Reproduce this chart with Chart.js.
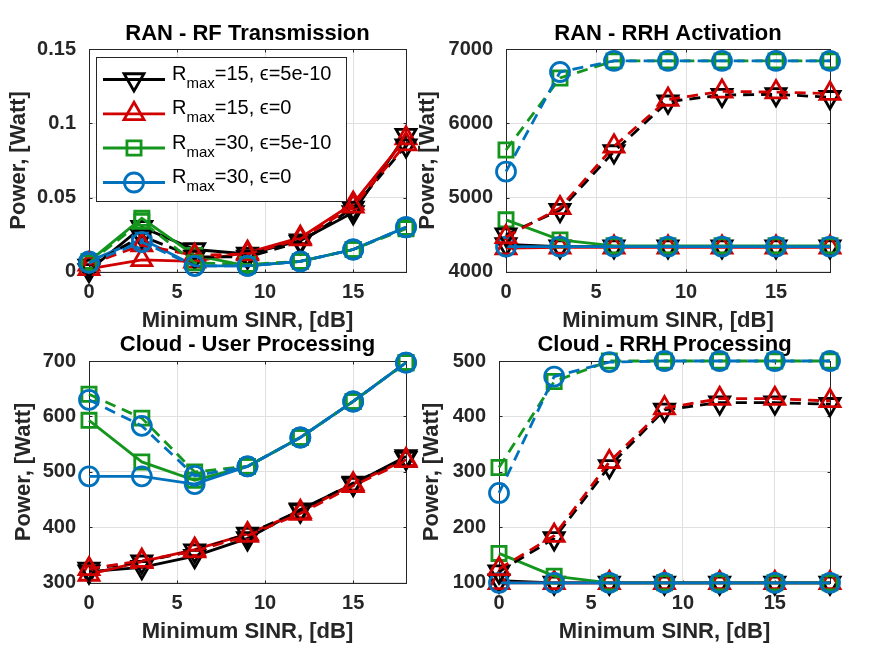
<!DOCTYPE html>
<html><head><meta charset="utf-8">
<script src="https://cdn.jsdelivr.net/npm/chart.js@4/dist/chart.umd.min.js"></script>
<style>
html,body{margin:0;padding:0;background:#fff;}
body{width:875px;height:657px;overflow:hidden;position:relative;}
canvas{position:absolute;}
</style>
</head><body>
<script>
// ---------- DATA ----------
const SINR = [0, 3, 6, 9, 12, 15, 18];
const xTicks = [0, 5, 10, 15];
const xTickLabels = ['0', '5', '10', '15'];

// RAN - RF Transmission
const rfTicks = [0, 0.05, 0.1, 0.15];
const rfTickLabels = ['0', '0.05', '0.1', '0.15'];
const rfBlackSolid  = [0.001, 0.030, 0.015, 0.012, 0.021, 0.040, 0.092];
const rfBlackDashed = [0.004, 0.024, 0.010, 0.010, 0.020, 0.043, 0.085];
const rfRedSolid    = [0.002, 0.008, 0.007, 0.013, 0.023, 0.046, 0.090];
const rfRedDashed   = [0.005, 0.018, 0.011, 0.012, 0.022, 0.044, 0.086];
const rfGreenSolid  = [0.007, 0.036, 0.011, 0.004, 0.007, 0.015, 0.030];
const rfGreenDashed = [0.006, 0.034, 0.006, 0.005, 0.007, 0.015, 0.029];
const rfBlueSolid   = [0.007, 0.022, 0.004, 0.004, 0.007, 0.015, 0.030];
const rfBlueDashed  = [0.006, 0.020, 0.004, 0.004, 0.007, 0.015, 0.030];

// RAN - RRH Activation
const actTicks = [4000, 5000, 6000, 7000];
const actTickLabels = ['4000', '5000', '6000', '7000'];
const actBlackSolid  = [4370, 4340, 4340, 4340, 4340, 4340, 4340];
const actBlackDashed = [4500, 4830, 5620, 6290, 6380, 6390, 6350];
const actRedSolid    = [4320, 4330, 4330, 4330, 4330, 4330, 4330];
const actRedDashed   = [4470, 4860, 5690, 6320, 6430, 6420, 6400];
const actGreenSolid  = [4700, 4430, 4350, 4350, 4350, 4350, 4350];
const actGreenDashed = [5640, 6610, 6840, 6840, 6840, 6840, 6840];
const actBlueSolid   = [4340, 4340, 4340, 4340, 4340, 4340, 4340];
const actBlueDashed  = [5350, 6690, 6840, 6840, 6840, 6840, 6840];

// Cloud - User Processing
const usrTicks = [300, 400, 500, 600, 700];
const usrTickLabels = ['300', '400', '500', '600', '700'];
const usrBlackSolid  = [320, 328, 348, 380, 432, 478, 528];
const usrBlackDashed = [325, 338, 358, 388, 430, 480, 525];
const usrRedSolid    = [315, 338, 360, 388, 428, 478, 522];
const usrRedDashed   = [325, 340, 357, 385, 425, 475, 520];
const usrGreenSolid  = [593, 518, 485, 510, 562, 627, 697];
const usrGreenDashed = [640, 597, 500, 510, 562, 627, 697];
const usrBlueSolid   = [492, 492, 478, 510, 562, 627, 697];
const usrBlueDashed  = [630, 583, 493, 510, 562, 627, 697];

// Cloud - RRH Processing
const procTicks = [100, 200, 300, 400, 500];
const procTickLabels = ['100', '200', '300', '400', '500'];
const procBlackSolid  = [104, 100, 100, 100, 100, 100, 100];
const procBlackDashed = [120, 180, 310, 412, 425, 425, 422];
const procRedSolid    = [100, 100, 100, 100, 100, 100, 100];
const procRedDashed   = [125, 185, 318, 415, 432, 432, 428];
const procGreenSolid  = [153, 112, 100, 100, 100, 100, 100];
const procGreenDashed = [308, 463, 500, 500, 500, 500, 500];
const procBlueSolid   = [100, 100, 100, 100, 100, 100, 100];
const procBlueDashed  = [262, 472, 498, 500, 500, 500, 500];

// Legend text
const legendRmax = ['15', '15', '30', '30'];
const legendEps  = ['5e-10', '0', '5e-10', '0'];

const xTitle = 'Minimum SINR, [dB]';
const yTitle = 'Power, [Watt]';

// ---------- STYLE ----------
const FONT = "'Liberation Sans', Arial, Helvetica, sans-serif";
const COLORS = ['#000000', '#d00000', '#14961e', '#0072bd'];
const STYLES = [
  {pointStyle: 'triangle', rotation: 180, radius: 11.5},
  {pointStyle: 'triangle', rotation: 0, radius: 11.5},
  {pointStyle: 'rect', rotation: 0, radius: 10},
  {pointStyle: 'circle', rotation: 0, radius: 9.5}
];
const LW = 2.8;
const DASH = [11, 7];

function mkDs(values, k, dashed, order) {
  const s = STYLES[k];
  return {
    data: SINR.map((x, i) => ({x: x, y: values[i]})),
    borderColor: COLORS[k],
    backgroundColor: 'rgba(0,0,0,0)',
    borderWidth: LW,
    borderDash: dashed ? DASH : [],
    pointStyle: s.pointStyle,
    pointRotation: s.rotation,
    pointRadius: s.radius,
    pointBorderWidth: LW,
    pointBorderColor: COLORS[k],
    pointBackgroundColor: 'rgba(0,0,0,0)',
    tension: 0,
    clip: false,
    order: order
  };
}

function buildSets(bs, bd, rs, rd, gs, gd, us, ud) {
  // lower order = drawn on top
  return [
    mkDs(bs, 0, false, 8), mkDs(rs, 1, false, 7), mkDs(gs, 2, false, 6), mkDs(us, 3, false, 5),
    mkDs(bd, 0, true, 4), mkDs(rd, 1, true, 3), mkDs(gd, 2, true, 2), mkDs(ud, 3, true, 1)
  ];
}

// Panel layout (page pixels)
const panels = [
  {title: 'RAN - RF Transmission', area: [89, 406, 49, 272], ytX: 19, tY: 33.8,
   yMin: 0, yMax: 0.15, yTicks: rfTicks, yLabels: rfTickLabels,
   sets: buildSets(rfBlackSolid, rfBlackDashed, rfRedSolid, rfRedDashed, rfGreenSolid, rfGreenDashed, rfBlueSolid, rfBlueDashed),
   legend: true},
  {title: 'RAN - RRH Activation', area: [506, 830, 49, 272], ytX: 428, tY: 33.8,
   yMin: 4000, yMax: 7000, yTicks: actTicks, yLabels: actTickLabels,
   sets: buildSets(actBlackSolid, actBlackDashed, actRedSolid, actRedDashed, actGreenSolid, actGreenDashed, actBlueSolid, actBlueDashed)},
  {title: 'Cloud - User Processing', area: [89, 406, 361, 583], ytX: 24, tY: 345.6,
   yMin: 300, yMax: 700, yTicks: usrTicks, yLabels: usrTickLabels,
   sets: buildSets(usrBlackSolid, usrBlackDashed, usrRedSolid, usrRedDashed, usrGreenSolid, usrGreenDashed, usrBlueSolid, usrBlueDashed)},
  {title: 'Cloud - RRH Processing', area: [499, 830, 361, 583], ytX: 432, tY: 345.6,
   yMin: 100, yMax: 500, yTicks: procTicks, yLabels: procTickLabels,
   sets: buildSets(procBlackSolid, procBlackDashed, procRedSolid, procRedDashed, procGreenSolid, procGreenDashed, procBlueSolid, procBlueDashed)}
];

const AXC = '#262626';
const GRIDC = '#e0e0e0';

const boxPlugin = {
  id: 'mbox',
  beforeDatasetsDraw(chart) {
    const {ctx, chartArea: a, scales} = chart;
    const L = Math.round(a.left) + 0.5, R = Math.round(a.right) + 0.5;
    const T = Math.round(a.top) + 0.5, B = Math.round(a.bottom) + 0.5;
    ctx.save();
    ctx.strokeStyle = AXC; ctx.lineWidth = 1; ctx.setLineDash([]);
    ctx.strokeRect(L, T, R - L, B - T);
    ctx.beginPath();
    scales.x.ticks.forEach(t => {
      const p = Math.round(scales.x.getPixelForValue(t.value)) + 0.5;
      ctx.moveTo(p, B); ctx.lineTo(p, B - 3);
      ctx.moveTo(p, T); ctx.lineTo(p, T + 3);
    });
    scales.y.ticks.forEach(t => {
      const p = Math.round(scales.y.getPixelForValue(t.value)) + 0.5;
      ctx.moveTo(L, p); ctx.lineTo(L + 3, p);
      ctx.moveTo(R, p); ctx.lineTo(R - 3, p);
    });
    ctx.stroke();
    ctx.restore();
  }
};

function makeLegendPlugin(offX, offY) {
  return {
    id: 'mlegend',
    afterDraw(chart) {
      const ctx = chart.ctx;
      ctx.save();
      ctx.translate(-offX, -offY);
      // box
      ctx.fillStyle = '#ffffff';
      ctx.fillRect(96.5, 57.5, 250, 144);
      ctx.strokeStyle = AXC; ctx.lineWidth = 1; ctx.setLineDash([]);
      ctx.strokeRect(96.5, 57.5, 250, 144);
      const rows = [79.5, 113.8, 148, 182.5];
      for (let k = 0; k < 4; k++) {
        const y = rows[k];
        ctx.strokeStyle = COLORS[k];
        ctx.lineWidth = LW;
        ctx.setLineDash([]);
        ctx.beginPath(); ctx.moveTo(103, y); ctx.lineTo(165, y); ctx.stroke();
        ctx.fillStyle = 'rgba(0,0,0,0)';
        const s = STYLES[k];
        Chart.helpers.drawPoint(ctx, {pointStyle: s.pointStyle, rotation: s.rotation, radius: s.radius, borderWidth: LW}, 134, y);
        // text
        ctx.fillStyle = '#000000';
        ctx.textBaseline = 'alphabetic';
        ctx.textAlign = 'left';
        ctx.font = '20px ' + FONT;
        let x = 172;
        ctx.fillText('R', x, y + 0.5);
        x += ctx.measureText('R').width;
        ctx.font = '15px ' + FONT;
        ctx.fillText('max', x, y + 8.5);
        x += ctx.measureText('max').width;
        ctx.font = '20px ' + FONT;
        ctx.fillText('=' + legendRmax[k] + ', \u03F5=' + legendEps[k], x, y + 0.5);
      }
      ctx.restore();
    }
  };
}

const TLH = 22 * 1.2; // title line height
const XH = 64.2;      // x scale height
const PADR = 16;

panels.forEach((p, idx) => {
  const [aL, aR, aT, aB] = p.area;
  const cL = Math.round(p.ytX - TLH / 2);
  const cT = Math.round(p.tY - TLH / 2);
  const W = Math.round(aR + PADR - cL);
  const H = Math.round(aB + XH - cT);
  const canvas = document.createElement('canvas');
  canvas.width = W; canvas.height = H;
  canvas.style.left = cL + 'px'; canvas.style.top = cT + 'px';
  canvas.style.width = W + 'px'; canvas.style.height = H + 'px';
  document.body.appendChild(canvas);
  const titlePadBottom = aT - cT - TLH;
  const yW = aL - cL;
  const plugins = [boxPlugin];
  if (p.legend) plugins.push(makeLegendPlugin(cL, cT));
  new Chart(canvas.getContext('2d'), {
    type: 'line',
    data: {datasets: p.sets},
    plugins: plugins,
    options: {
      responsive: false,
      animation: false,
      events: [],
      devicePixelRatio: 1,
      layout: {padding: {left: 0, top: 0, bottom: 0, right: PADR}},
      plugins: {
        legend: {display: false},
        tooltip: {enabled: false},
        title: {
          display: true, text: p.title, fullSize: false, color: '#000000',
          font: {family: FONT, size: 22, weight: 'bold'},
          padding: {top: 0, bottom: titlePadBottom}
        }
      },
      scales: {
        x: {
          type: 'linear', min: 0, max: 18,
          afterBuildTicks: s => { s.ticks = xTicks.map(v => ({value: v})); },
          afterFit: s => { s.height = XH; },
          grid: {color: GRIDC, lineWidth: 1, drawTicks: false},
          border: {display: false},
          ticks: {
            padding: 9, color: AXC, maxRotation: 0, autoSkip: false,
            font: {family: FONT, size: 20, weight: 'bold'},
            callback: (v, i) => xTickLabels[i]
          },
          title: {display: true, text: xTitle, color: AXC,
            font: {family: FONT, size: 22, weight: 'bold'}, padding: {top: 0, bottom: 2}}
        },
        y: {
          type: 'linear', min: p.yMin, max: p.yMax,
          afterBuildTicks: s => { s.ticks = p.yTicks.map(v => ({value: v})); },
          afterFit: s => { s.width = yW; },
          grid: {color: GRIDC, lineWidth: 1, drawTicks: false},
          border: {display: false},
          ticks: {
            padding: 13, color: AXC, autoSkip: false,
            font: {family: FONT, size: 20, weight: 'bold'},
            callback: (v, i) => p.yLabels[i]
          },
          title: {display: true, text: yTitle, color: AXC,
            font: {family: FONT, size: 22, weight: 'bold'}, padding: {top: 0, bottom: 0}}
        }
      }
    }
  });
});
</script>
</body></html>
